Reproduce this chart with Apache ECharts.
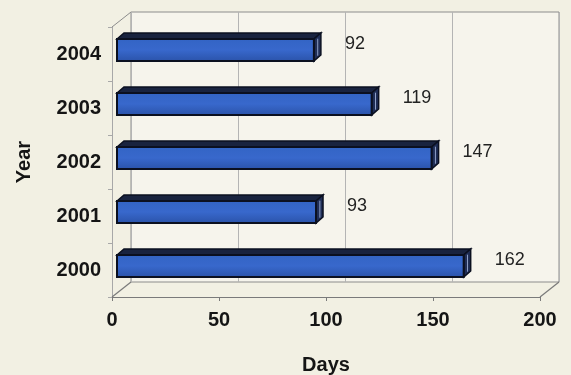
<!DOCTYPE html>
<html>
<head>
<meta charset="utf-8">
<script src="https://cdn.jsdelivr.net/npm/echarts@6/dist/echarts.min.js"></script>
<style>
html,body{margin:0;padding:0;background:#f2f0e3;}
#c{width:571px;height:375px;}
</style>
</head>
<body>
<div id="c"></div>
<script>
// ---- data ----
const years = ['2000', '2001', '2002', '2003', '2004'];
const days = [162, 93, 147, 119, 92];
const xMin = 0, xMax = 200, xInterval = 50;
const xTitle = 'Days';
const yTitle = 'Year';

// ---- layout ----
const FRONT = {l: 112, t: 27, w: 428, h: 270};
const DEPTH = {dx: 19, dy: -15};
const BARSHIFT = {dx: 5, dy: -4};
const BAR3D = {dx: 7, dy: -6, h: 22};
const FONT = '"Liberation Sans", Arial, sans-serif';

const chart = echarts.init(document.getElementById('c'), null, {renderer: 'canvas'});

function renderBar(params, api) {
  const v = api.value(0), c = api.value(1);
  const s = api.coord([0, c]);
  const e = api.coord([v, c]);
  const h = BAR3D.h, dx = BAR3D.dx, dy = BAR3D.dy;
  const x0 = s[0], x1 = e[0], yt = e[1] - h / 2, yb = e[1] + h / 2;
  const stroke = '#0b1020';
  return {
    type: 'group',
    children: [
      {type: 'polygon', shape: {points: [[x0, yt], [x0 + dx, yt + dy], [x1 + dx, yt + dy], [x1, yt]]},
       style: {fill: '#19233f', stroke: stroke, lineWidth: 1.5}},
      {type: 'polygon', shape: {points: [[x1, yt], [x1 + dx, yt + dy], [x1 + dx, yb + dy], [x1, yb]]},
       style: {fill: '#1f2d55', stroke: stroke, lineWidth: 1.5}},
      {type: 'line', shape: {x1: x1 + dx * 0.55, y1: yt + dy * 0.55 + 3, x2: x1 + dx * 0.55, y2: yb + dy * 0.55 - 2},
       style: {stroke: '#8fa0c8', lineWidth: 1}},
      {type: 'rect', shape: {x: x0, y: yt, width: x1 - x0, height: h},
       style: {fill: new echarts.graphic.LinearGradient(0, 0, 0, 1, [
         {offset: 0, color: '#3264c4'}, {offset: 0.5, color: '#3868cc'}, {offset: 1, color: '#2a52a8'}]),
         stroke: stroke, lineWidth: 2}},
      {type: 'text', x: x1 + 31, y: e[1] - 6,
       style: {text: String(v), fill: '#222', font: '18px ' + FONT, align: 'left', verticalAlign: 'middle'}}
    ]
  };
}

const frameColor = '#8c8c8c';
const option = {
  backgroundColor: '#f2f0e3',
  animation: false,
  grid: [
    // back wall
    {left: FRONT.l + DEPTH.dx, top: FRONT.t + DEPTH.dy, width: FRONT.w, height: FRONT.h,
     show: true, backgroundColor: '#f6f4ec', borderColor: frameColor, borderWidth: 1, outerBoundsMode: 'none'},
    // front (axes)
    {left: FRONT.l, top: FRONT.t, width: FRONT.w, height: FRONT.h, outerBoundsMode: 'none'},
    // bar plane
    {left: FRONT.l + BARSHIFT.dx, top: FRONT.t + BARSHIFT.dy, width: FRONT.w, height: FRONT.h, outerBoundsMode: 'none'}
  ],
  xAxis: [
    {gridIndex: 0, type: 'value', min: xMin, max: xMax, interval: xInterval,
     axisLine: {show: false}, axisTick: {show: false}, axisLabel: {show: false},
     splitLine: {show: true, lineStyle: {color: '#b4b4b4', width: 1}}},
    {gridIndex: 1, type: 'value', min: xMin, max: xMax, interval: xInterval,
     axisLine: {show: true, lineStyle: {color: '#7a7a7a', width: 1.2}},
     axisTick: {show: true, length: 4, lineStyle: {color: '#7a7a7a'}},
     splitLine: {show: false},
     axisLabel: {show: true, margin: 13, color: '#151515', fontSize: 20, fontWeight: 'bold', fontFamily: FONT},
     name: xTitle, nameLocation: 'middle', nameGap: 58,
     nameTextStyle: {color: '#151515', fontSize: 20, fontWeight: 'bold', fontFamily: FONT}},
    {gridIndex: 2, type: 'value', min: xMin, max: xMax, show: false}
  ],
  yAxis: [
    {gridIndex: 0, type: 'category', data: years, show: false},
    {gridIndex: 1, type: 'category', data: years,
     axisLine: {show: true, lineStyle: {color: '#a8a8a8', width: 1}},
     axisTick: {show: true, length: 4, lineStyle: {color: '#a8a8a8'}},
     axisLabel: {show: true, margin: 11, color: '#151515', fontSize: 20, fontWeight: 'bold', fontFamily: FONT},
     name: yTitle, nameLocation: 'middle', nameGap: 78, nameRotate: 90,
     nameTextStyle: {color: '#151515', fontSize: 20, fontWeight: 'bold', fontFamily: FONT}},
    {gridIndex: 2, type: 'category', data: years, show: false}
  ],
  series: [{
    type: 'custom',
    xAxisIndex: 2, yAxisIndex: 2,
    renderItem: renderBar,
    encode: {x: 0, y: 1},
    data: days.map((d, i) => [d, i]),
    z: 10
  }],
  graphic: [
    {type: 'line', silent: true, z: 5,
     shape: {x1: FRONT.l, y1: FRONT.t + FRONT.h, x2: FRONT.l + DEPTH.dx, y2: FRONT.t + FRONT.h + DEPTH.dy},
     style: {stroke: '#7a7a7a', lineWidth: 1.2}},
    {type: 'line', silent: true, z: 5,
     shape: {x1: FRONT.l + FRONT.w, y1: FRONT.t + FRONT.h, x2: FRONT.l + FRONT.w + DEPTH.dx, y2: FRONT.t + FRONT.h + DEPTH.dy},
     style: {stroke: '#7a7a7a', lineWidth: 1.2}},
    {type: 'line', silent: true, z: 5,
     shape: {x1: FRONT.l, y1: FRONT.t, x2: FRONT.l + DEPTH.dx, y2: FRONT.t + DEPTH.dy},
     style: {stroke: '#8c8c8c', lineWidth: 1}}
  ]
};
chart.setOption(option);
</script>
</body>
</html>
